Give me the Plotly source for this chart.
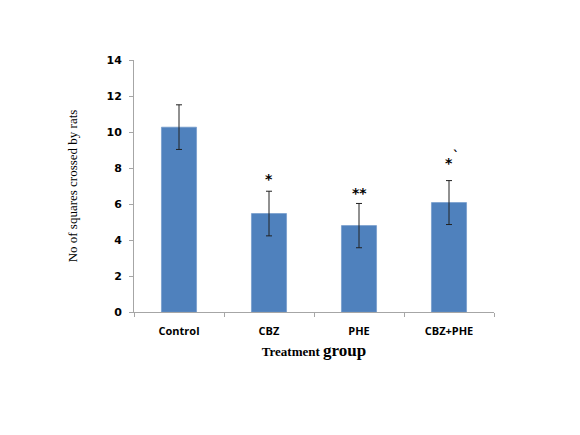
import plotly.graph_objects as go

groups = ["Control", "CBZ", "PHE", "CBZ+PHE"]
means = [10.27, 5.47, 4.8, 6.08]
errors = [1.24, 1.24, 1.23, 1.22]
sig_marks = ["", "*", "**", "*"]
sig_gap = [0, 0.1, 0.0, 0.4]

fig = go.Figure()

fig.add_trace(go.Bar(
    x=groups,
    y=means,
    marker=dict(color="#4F81BD", line=dict(color="#6A94C8", width=0.6)),
    error_y=dict(type="data", array=errors, color="#222222", thickness=1, width=3),
    width=0.39,
    showlegend=False,
    hoverinfo="skip",
))

# significance stars above the error bars
for g, m, e, s, gap in zip(groups, means, errors, sig_marks, sig_gap):
    if s:
        fig.add_annotation(
            x=g, y=m + e + gap, text="<b>" + s + "</b>", showarrow=False, yanchor="bottom",
            font=dict(family="DejaVu Sans", size=14, color="black"),
        )

# small stray mark next to the last star
fig.add_annotation(
    x=groups[-1], y=means[-1] + errors[-1] + 0.85, text="<b>`</b>", showarrow=False,
    xshift=7, yanchor="bottom", font=dict(family="DejaVu Sans", size=12, color="black"),
)

fig.update_layout(
    width=580, height=435,
    margin=dict(l=126, r=94, t=52, b=131),
    plot_bgcolor="white", paper_bgcolor="white",
    xaxis=dict(
        type="category", tickson="boundaries",
        ticks="outside", ticklen=4, tickcolor="#A6A6A6",
        showline=True, linecolor="#A6A6A6", linewidth=1,
        showgrid=False, zeroline=False, ticklabelstandoff=9,
        tickfont=dict(family="Open Sans", size=11, color="black", weight="bold"),
        title=dict(
            text="<b>Treatment <span style='font-size:17px'>group</span></b>",
            font=dict(family="Liberation Serif", size=13, color="black"),
            standoff=9,
        ),
    ),
    yaxis=dict(
        range=[0, 14], dtick=2,
        ticks="outside", ticklen=4, tickcolor="#A6A6A6",
        showline=True, linecolor="#A6A6A6", linewidth=1,
        showgrid=False, zeroline=False, ticklabelstandoff=5,
        tickfont=dict(family="DejaVu Sans", size=11, color="black", weight="bold"),
        title=dict(
            text="No of squares crossed by rats",
            font=dict(family="Liberation Serif", size=13, color="black"),
            standoff=25,
        ),
    ),
)

fig.write_html("out.html")
